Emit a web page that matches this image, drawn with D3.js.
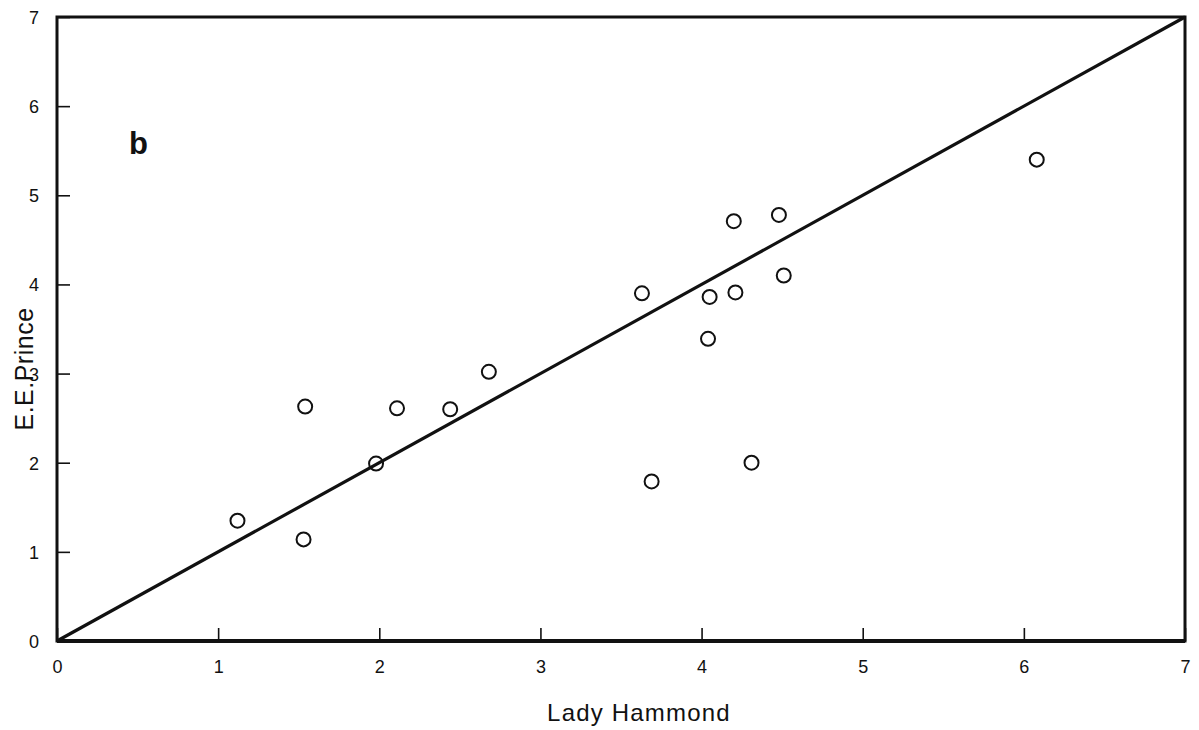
<!DOCTYPE html>
<html><head><meta charset="utf-8">
<script src="https://cdn.jsdelivr.net/npm/d3@7"></script>
<style>body{margin:0;background:#fff}svg{display:block}</style>
</head><body>
<svg id="c" width="1199" height="730"></svg>
<script>
const xVals = [1.12, 1.53, 1.54, 1.98, 2.11, 2.44, 2.68, 3.63, 3.69, 4.04, 4.05, 4.20, 4.21, 4.31, 4.48, 4.51, 6.08];
const yVals = [1.35, 1.14, 2.63, 1.99, 2.61, 2.60, 3.02, 3.90, 1.79, 3.39, 3.86, 4.71, 3.91, 2.00, 4.78, 4.10, 5.40];
const lineX = [0, 7];
const lineY = [0, 7];
const xTicks = [0,1,2,3,4,5,6,7];
const yTicks = [0,1,2,3,4,5,6,7];

const svg = d3.select("#c");
const mLeft = 57, mRight = 1185, mTop = 17, mBottom = 641;
const x = d3.scaleLinear().domain([0,7]).range([mLeft,mRight]);
const y = d3.scaleLinear().domain([0,7]).range([mBottom,mTop]);
const font = "'Liberation Sans', Arial, Helvetica, sans-serif";

// ticks (inward)
const xa = svg.append("g").attr("transform",`translate(0,${mBottom})`)
  .call(d3.axisBottom(x).tickValues(xTicks).tickSize(-13).tickPadding(32).tickFormat(d3.format("d")));
const ya = svg.append("g").attr("transform",`translate(${mLeft},0)`)
  .call(d3.axisLeft(y).tickValues(yTicks).tickSize(-13).tickPadding(18).tickFormat(d3.format("d")));
[xa,ya].forEach(a=>{
  a.select(".domain").remove();
  a.attr("font-size",null).attr("font-family",null);
  a.selectAll(".tick line").attr("stroke","#111").attr("stroke-width",1.6);
  a.selectAll(".tick text").style("font-family",font).style("font-size","18px").attr("fill","#111");
});
xa.selectAll(".tick text").attr("dy","0");
ya.selectAll(".tick text").attr("dy","0.36em");

// frame
svg.append("rect").attr("x",mLeft).attr("y",mTop).attr("width",mRight-mLeft).attr("height",mBottom-mTop)
  .attr("fill","none").attr("stroke","#111").attr("stroke-width",3);
svg.append("line").attr("x1",mLeft).attr("x2",mRight).attr("y1",mBottom).attr("y2",mBottom)
  .attr("stroke","#111").attr("stroke-width",4);

// 1:1 line
svg.append("line")
  .attr("x1",x(lineX[0])).attr("y1",y(lineY[0]))
  .attr("x2",x(lineX[1])).attr("y2",y(lineY[1]))
  .attr("stroke","#111").attr("stroke-width",3.2);

// points
svg.append("g").selectAll("circle").data(xVals.map((v,i)=>[v,yVals[i]])).join("circle")
  .attr("cx",d=>x(d[0])).attr("cy",d=>y(d[1])).attr("r",7)
  .attr("fill","none").attr("stroke","#111").attr("stroke-width",2);

// labels
svg.append("text").attr("x",129).attr("y",154).style("font-family",font)
  .style("font-size","31px").style("font-weight","bold").attr("fill","#111").text("b");
svg.append("text").attr("x",639).attr("y",721).attr("text-anchor","middle")
  .style("font-family",font).style("font-size","24px").attr("letter-spacing",1.2).attr("fill","#111").text("Lady Hammond");
svg.append("text").attr("transform","translate(33,369) rotate(-90)").attr("text-anchor","middle")
  .style("font-family",font).style("font-size","25px").attr("letter-spacing",0.5).attr("fill","#111").text("E.E.Prince");
</script>
</body></html>
